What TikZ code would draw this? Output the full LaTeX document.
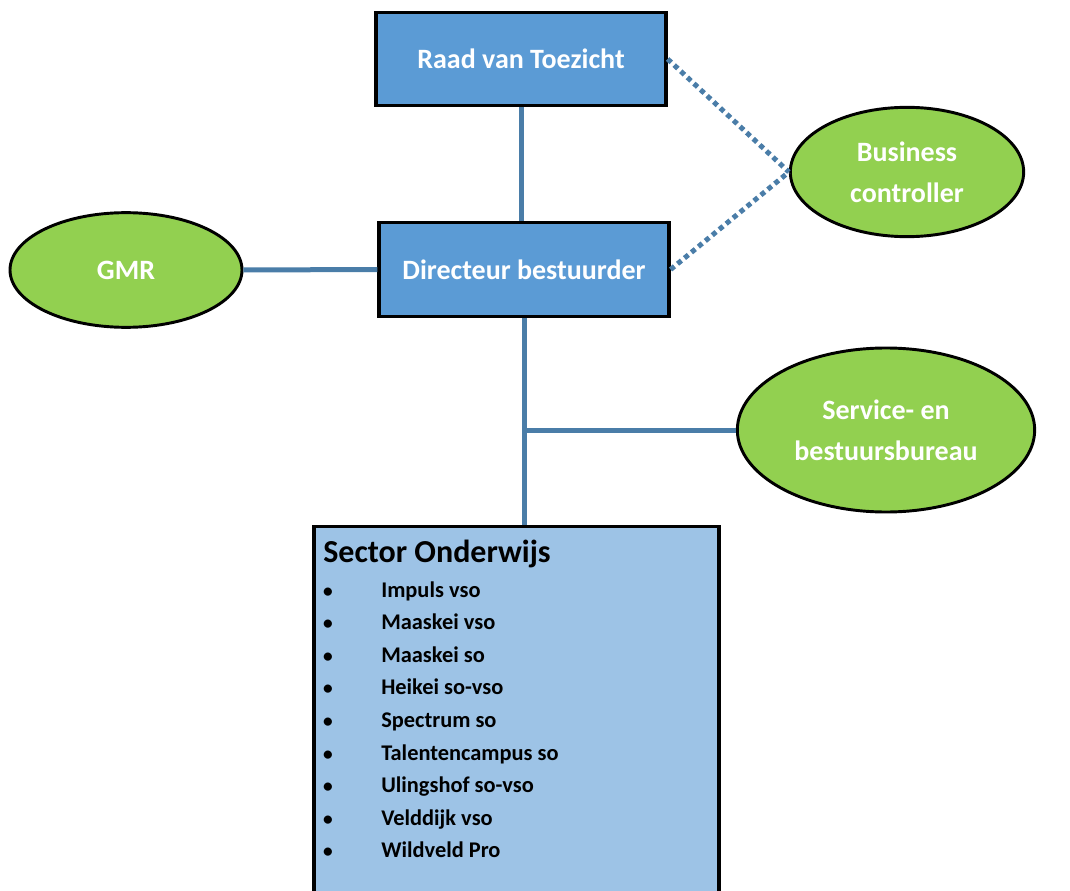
\documentclass[tikz,border=0pt]{standalone}
\usepackage{fontspec}
\setmainfont{Carlito}
\usetikzlibrary{shapes.geometric}
\definecolor{boxblue}{HTML}{5B9BD5}
\definecolor{lightblue}{HTML}{9DC3E6}
\definecolor{leaf}{HTML}{92D050}
\definecolor{conn}{HTML}{4A7DA8}
\tikzset{
  topbox/.style={draw=black, line width=2.4pt, fill=boxblue, minimum width=217.5pt, minimum height=70pt, inner sep=0pt, text=white, font=\fontsize{21}{24}\selectfont\bfseries},
  oval/.style={ellipse, draw=black, line width=2.2pt, fill=leaf, inner sep=0pt, text=white, align=center, font=\fontsize{21}{31}\selectfont\bfseries},
  link/.style={draw=conn, line width=3.75pt},
  dots/.style={draw=conn, line width=3.75pt, dash pattern=on 3.75pt off 3pt},
  item/.style={anchor=base west, inner sep=0pt, font=\fontsize{16.8}{19}\selectfont\bfseries},
  bul/.style={anchor=base, inner sep=0pt, font=\fontsize{14.5}{17}\selectfont\bfseries},
}
\begin{document}
\begin{tikzpicture}[x=0.75pt, y=-0.75pt]
\useasboundingbox (0,0) rectangle (1070,891);
\clip (0,0) rectangle (1070,891);
\node[topbox] (raad) at (521,59) {Raad van Toezicht};
\node[topbox] (dir) at (524,269.5) {Directeur bestuurder};
\node[oval, minimum width=175pt, minimum height=97pt] (bc) at (907,172) {Business\\controller};
\node[oval, minimum width=174pt, minimum height=86pt] (gmr) at (126,270) {GMR};
\node[oval, minimum width=223pt, minimum height=123pt] (svc) at (886,430) {Service- en\\bestuursbureau};
\node[draw=black, line width=2.4pt, fill=lightblue, minimum width=303.75pt, minimum height=285pt, inner sep=0pt, anchor=north] (sector) at (516.5,525) {};
\node[anchor=base west, inner sep=0pt, font=\fontsize{24}{26}\selectfont\bfseries] (title) at (323,562) {Sector Onderwijs};
\foreach \t [count=\i from 0] in {Impuls vso, Maaskei vso, Maaskei so, Heikei so-vso, Spectrum so, Talentencampus so, Ulingshof so-vso, Velddijk vso, Wildveld Pro}{
  \node[bul] (b\i) at (328,597+32.6*\i) {•};
  \node[item] (t\i) at (381,597+32.6*\i) {\t};
}
\draw[link] (raad.south) -- (raad.south |- dir.north);
\draw[link] (gmr.east) -- (dir.west);
\draw[link] (dir.south) -- (dir.south |- sector.north);
\coordinate (j) at (dir.south |- svc.west);
\draw[link] (j) -- (svc.west);
\draw[dots] (raad.east) -- (bc.west);
\draw[dots] (dir.east) -- (bc.west);
\end{tikzpicture}
\end{document}
